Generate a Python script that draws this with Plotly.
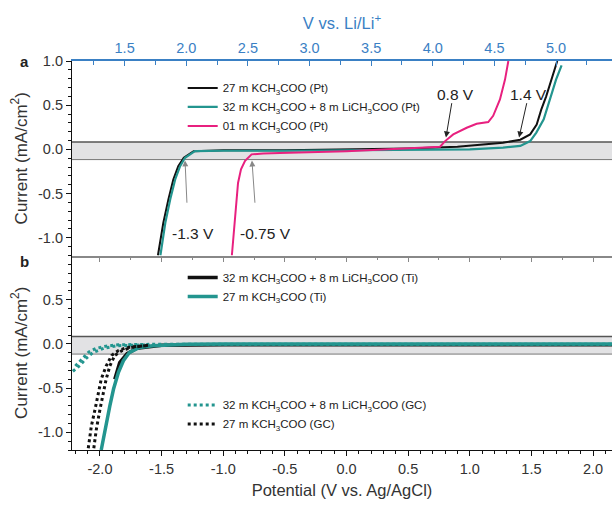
import plotly.graph_objects as go
from plotly.subplots import make_subplots

# ---------------- data ----------------
# Panel a (Pt)
a_black_x = [-1.53, -1.486, -1.445, -1.405, -1.365, -1.32, -1.24, -1.0, -0.5, 0.0, 0.5, 0.9, 1.137, 1.27, 1.41, 1.49, 1.543, 1.58, 1.62, 1.66, 1.70, 1.71]
a_black_y = [-1.2, -0.83, -0.565, -0.34, -0.19, -0.095, -0.02, -0.01, -0.01, 0.0, 0.01, 0.03, 0.056, 0.075, 0.11, 0.17, 0.28, 0.45, 0.60, 0.79, 0.98, 1.0]
a_teal_x = [-1.51, -1.47, -1.43, -1.39, -1.35, -1.31, -1.23, -1.0, -0.5, 0.0, 0.5, 1.0, 1.27, 1.41, 1.49, 1.54, 1.60, 1.65, 1.70, 1.745]
a_teal_y = [-1.2, -0.83, -0.565, -0.34, -0.19, -0.095, -0.02, -0.015, -0.015, -0.01, -0.01, 0.0, 0.02, 0.04, 0.094, 0.19, 0.34, 0.565, 0.79, 0.95]
a_pink_x = [-0.93, -0.905, -0.89, -0.88, -0.856, -0.823, -0.77, -0.675, -0.54, 0.0, 0.596, 0.759, 0.80, 0.866, 0.975, 1.056, 1.15, 1.19, 1.245, 1.286, 1.313]
a_pink_y = [-1.2, -0.83, -0.565, -0.38, -0.226, -0.13, -0.056, -0.045, -0.04, -0.02, 0.02, 0.03, 0.094, 0.17, 0.245, 0.29, 0.31, 0.38, 0.565, 0.79, 1.0]

# Panel b (Ti solid, GC dotted)
b_ti_black_x = [-1.88, -1.84, -1.78, -1.70, -1.5, -1.0, 0.0, 1.0, 2.2]
b_ti_black_y = [-0.40, -0.21, -0.11, -0.05, -0.015, -0.01, -0.01, -0.01, -0.01]
b_ti_teal_x = [-1.99, -1.96, -1.92, -1.89, -1.85, -1.81, -1.76, -1.68, -1.57, -1.3, -1.0, 0.0, 1.0, 2.2]
b_ti_teal_y = [-1.2, -0.97, -0.70, -0.51, -0.32, -0.19, -0.095, -0.04, -0.02, -0.005, 0.0, 0.0, 0.0, 0.0]
b_gc_teal_x = [-2.22, -2.16, -2.11, -2.06, -1.97, -1.86, -1.6, None, -2.20, -2.14, -2.09, -2.03, -1.95, -1.85, -1.6, -1.0, 0.0, 1.0, 2.2]
b_gc_teal_y = [-0.31, -0.24, -0.16, -0.10, -0.05, -0.02, -0.01, None, -0.25, -0.16, -0.09, -0.05, -0.025, -0.01, -0.005, -0.005, -0.005, -0.005, -0.005]
b_gc_black_x = [-2.095, -2.07, -2.04, -2.01, -1.99, -1.95, -1.905, -1.85, -1.78, -1.6, None, -2.05, -2.03, -2.0, -1.97, -1.95, -1.92, -1.88, -1.82, -1.75, -1.6]
b_gc_black_y = [-1.18, -0.93, -0.74, -0.55, -0.40, -0.25, -0.13, -0.075, -0.04, -0.015, None, -1.18, -0.97, -0.74, -0.55, -0.40, -0.25, -0.13, -0.075, -0.04, -0.015]

x_ticks = [-2.0, -1.5, -1.0, -0.5, 0.0, 0.5, 1.0, 1.5, 2.0]
li_ticks = [1.5, 2.0, 2.5, 3.0, 3.5, 4.0, 4.5, 5.0]
ya_ticks = [-1.0, -0.5, 0.0, 0.5, 1.0]
yb_ticks = [-1.0, -0.5, 0.0, 0.5]
li_offset = 3.3
x_range = [-2.227, 2.154]
band = [-0.115, 0.085]

BLACK = "#111111"
TEAL = "#23958f"
PINK = "#e8207f"
BLUE = "#3a80c4"
TXT = "#333333"
FONT = "Liberation Sans, Arial, sans-serif"

fig = make_subplots(rows=2, cols=1, shared_xaxes=True, vertical_spacing=0)

K = "KCH<sub>3</sub>COO"
L = "LiCH<sub>3</sub>COO"

fig.add_trace(go.Scatter(x=a_black_x, y=a_black_y, mode="lines", line=dict(color=BLACK, width=2),
                         name=f"27 m {K} (Pt)", legend="legend"), row=1, col=1)
fig.add_trace(go.Scatter(x=a_teal_x, y=a_teal_y, mode="lines", line=dict(color=TEAL, width=2.2),
                         name=f"32 m {K} + 8 m {L} (Pt)", legend="legend"), row=1, col=1)
fig.add_trace(go.Scatter(x=a_pink_x, y=a_pink_y, mode="lines", line=dict(color=PINK, width=2),
                         name=f"01 m {K} (Pt)", legend="legend"), row=1, col=1)

fig.add_trace(go.Scatter(x=b_ti_black_x, y=b_ti_black_y, mode="lines", line=dict(color=BLACK, width=3.5),
                         name=f"32 m {K} + 8 m {L} (Ti)", legend="legend2"), row=2, col=1)
fig.add_trace(go.Scatter(x=b_ti_teal_x, y=b_ti_teal_y, mode="lines", line=dict(color=TEAL, width=3.5),
                         name=f"27 m {K} (Ti)", legend="legend2"), row=2, col=1)
fig.add_trace(go.Scatter(x=b_gc_teal_x, y=b_gc_teal_y, mode="lines", line=dict(color=TEAL, width=3, dash="dot"),
                         name=f"32 m {K} + 8 m {L} (GC)", legend="legend3"), row=2, col=1)
fig.add_trace(go.Scatter(x=b_gc_black_x, y=b_gc_black_y, mode="lines", line=dict(color=BLACK, width=3, dash="dot"),
                         name=f"27 m {K} (GC)", legend="legend3"), row=2, col=1)

# empty carrier trace so the top Li/Li+ axis is drawn
fig.add_trace(go.Scatter(x=li_ticks, y=[None] * len(li_ticks), xaxis="x3", yaxis="y",
                         mode="lines", showlegend=False, hoverinfo="skip"))

# gray band in both panels
for yr in ["y", "y2"]:
    xr = "x domain" if yr == "y" else "x2 domain"
    fig.add_shape(type="rect", xref=xr, yref=yr, x0=0, x1=1, y0=band[0], y1=band[1],
                  fillcolor="#e2e2e4", line=dict(width=0), layer="below")
    fig.add_shape(type="line", xref=xr, yref=yr, x0=0, x1=1, y0=band[1], y1=band[1],
                  line=dict(color="#555555", width=1.5), layer="below")
    fig.add_shape(type="line", xref=xr, yref=yr, x0=0, x1=1, y0=band[0], y1=band[0],
                  line=dict(color="#777777", width=1), layer="below")

tickfont = dict(family=FONT, size=14.5, color=TXT)

fig.update_xaxes(range=x_range, showgrid=False, zeroline=False)
fig.update_xaxes(row=1, col=1, showline=True, linecolor="#888888", linewidth=1.5,
                 ticks="outside", ticklen=5, tickcolor="#888888", dtick=0.5, tick0=0,
                 minor=dict(dtick=0.25, ticks="outside", ticklen=3, tickcolor="#888888"),
                 showticklabels=False)
fig.update_xaxes(row=2, col=1, showline=True, linecolor=BLACK, linewidth=1.2,
                 ticks="outside", ticklen=5, tickcolor=BLACK,
                 tickvals=x_ticks, ticktext=[f"{v:.1f}" for v in x_ticks], tickfont=tickfont,
                 minor=dict(dtick=0.1, tick0=0, ticks="outside", ticklen=3, tickcolor=BLACK),
                 title=dict(text="Potential (V vs. Ag/AgCl)", font=dict(family=FONT, size=16.5, color=TXT), standoff=8))

ytitle = dict(text="Current (mA/cm<sup>2</sup>)", font=dict(family=FONT, size=17, color=TXT), standoff=6)
fig.update_yaxes(range=[-1.2, 1.0], showgrid=False, zeroline=False, showline=True, linecolor=BLACK,
                 linewidth=1.2, ticks="outside", ticklen=5, tickcolor=BLACK, tickfont=tickfont,
                 minor=dict(dtick=0.1, tick0=0, ticks="outside", ticklen=3, tickcolor=BLACK), title=ytitle)
fig.update_yaxes(row=1, col=1, tickvals=ya_ticks, ticktext=[f"{v:.1f}" for v in ya_ticks])
fig.update_yaxes(row=2, col=1, tickvals=yb_ticks, ticktext=[f"{v:.1f}" for v in yb_ticks])

# top Li/Li+ axis
fig.update_layout(xaxis3=dict(overlaying="x", anchor="y", side="top",
                              range=[x_range[0] + li_offset, x_range[1] + li_offset],
                              showgrid=False, zeroline=False, showline=True, linecolor=BLUE, linewidth=2,
                              ticks="inside", ticklen=5, tickcolor=BLUE,
                              tickvals=li_ticks, ticktext=[f"{v:.1f}" for v in li_ticks],
                              tickfont=dict(family=FONT, size=14.5, color=BLUE),
                              minor=dict(dtick=0.25, tick0=0, ticks="inside", ticklen=4, tickcolor=BLUE),
                              title=dict(text="V vs. Li/Li<sup>+</sup>", font=dict(family=FONT, size=16.5, color=BLUE), standoff=6)))

legfont = dict(family=FONT, size=11.5, color="#222222")
fig.update_layout(
    width=612, height=505,
    margin=dict(l=72, r=0, t=61, b=55),
    paper_bgcolor="white", plot_bgcolor="white",
    font=dict(family=FONT, color=TXT),
    legend=dict(x=0.205, y=0.968, xanchor="left", yanchor="top", bgcolor="rgba(0,0,0,0)",
                font=legfont, tracegroupgap=0, itemwidth=30),
    legend2=dict(x=0.205, y=0.481, xanchor="left", yanchor="top", bgcolor="rgba(0,0,0,0)",
                 font=legfont, tracegroupgap=0, itemwidth=30),
    legend3=dict(x=0.205, y=0.153, xanchor="left", yanchor="top", bgcolor="rgba(0,0,0,0)",
                 font=legfont, tracegroupgap=0, itemwidth=30),
)

# annotations (arrows + labels)
annfont = dict(family=FONT, size=15.5, color="#222222")
arrows = [(-1.31, -0.125, -1.294, -0.62, "#888888"),
          (-0.767, -0.125, -0.742, -0.62, "#888888"),
          (0.807, 0.135, 0.856, 0.54, "#222222"),
          (1.40, 0.135, 1.465, 0.54, "#222222")]
for x, y, ax, ay, c in arrows:
    fig.add_annotation(x=x, y=y, ax=ax, ay=ay, xref="x", yref="y", axref="x", ayref="y", text="",
                       showarrow=True, arrowhead=2, arrowsize=1.2, arrowwidth=1, arrowcolor=c)
labels = [(-1.245, -0.95, "-1.3 V"), (-0.661, -0.95, "-0.75 V"), (0.888, 0.62, "0.8 V"), (1.48, 0.62, "1.4 V")]
for x, y, t in labels:
    fig.add_annotation(x=x, y=y, xref="x", yref="y", text=t, showarrow=False, font=annfont)

fig.add_annotation(x=-0.1, y=1.0, xref="paper", yref="y domain", yanchor="middle", text="<b>a</b>",
                   showarrow=False, font=dict(family=FONT, size=15, color="#222222"))
fig.add_annotation(x=-0.1, y=0.97, xref="paper", yref="y2 domain", yanchor="middle", text="<b>b</b>",
                   showarrow=False, font=dict(family=FONT, size=15, color="#222222"))

fig.write_html("out.html")
